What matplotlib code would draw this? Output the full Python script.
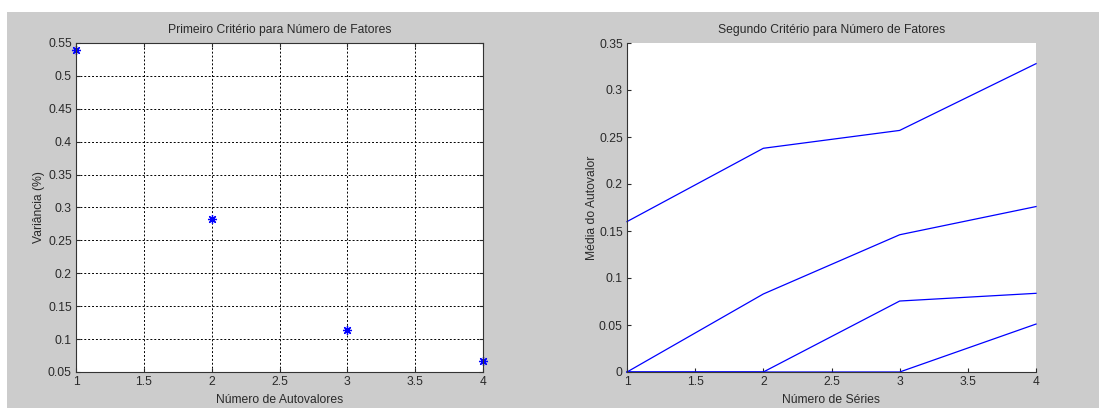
import matplotlib
matplotlib.use('Agg')
import matplotlib.pyplot as plt
from matplotlib.patches import Rectangle

# dados do primeiro criterio
n_autovalores = [1, 2, 3, 4]
variancia = [0.539, 0.282, 0.114, 0.066]

# dados do segundo criterio
n_series = [1, 2, 3, 4]
media_1 = [0.160, 0.238, 0.257, 0.328]
media_2 = [0.0, 0.083, 0.146, 0.176]
media_3 = [0.0, 0.0, 0.0755, 0.0837]
media_4 = [0.0, 0.0, 0.0, 0.051]

xticks = [1, 1.5, 2, 2.5, 3, 3.5, 4]
xticklabels = ['1', '1.5', '2', '2.5', '3', '3.5', '4']
yticks1 = [0.05, 0.1, 0.15, 0.2, 0.25, 0.3, 0.35, 0.4, 0.45, 0.5, 0.55]
yticklabels1 = ['0.05', '0.1', '0.15', '0.2', '0.25', '0.3', '0.35', '0.4', '0.45', '0.5', '0.55']
yticks2 = [0, 0.05, 0.1, 0.15, 0.2, 0.25, 0.3, 0.35]
yticklabels2 = ['0', '0.05', '0.1', '0.15', '0.2', '0.25', '0.3', '0.35']

plt.rcParams['font.family'] = ['Liberation Sans', 'DejaVu Sans']
plt.rcParams['xtick.direction'] = 'in'
plt.rcParams['ytick.direction'] = 'in'

fs = 8.7
txt = '#2a2a2a'

fig = plt.figure(figsize=(10.99, 4.08), dpi=100)
fig.patch.set_facecolor('white')
# fundo cinza estilo MATLAB
fig.patches.append(Rectangle((7/1099, 0), 1 - 7/1099, 1 - 12/408, transform=fig.transFigure,
                             facecolor='#cccccc', edgecolor='none', zorder=-1))

ax1 = fig.add_axes([76/1099, 36/408, 407/1099, 329/408])
ax1.plot(n_autovalores, variancia, linestyle='none', marker=(8, 2, 0), color='blue',
         markersize=6.5, markeredgewidth=0.9, clip_on=False)
ax1.set_xlim(1, 4)
ax1.set_ylim(0.05, 0.55)
ax1.set_xticks(xticks)
ax1.set_xticklabels(xticklabels)
ax1.set_yticks(yticks1)
ax1.set_yticklabels(yticklabels1)
ax1.grid(True, color='black', linestyle=(0, (2, 2)), linewidth=0.7)
ax1.set_title('Primeiro Critério para Número de Fatores', fontsize=fs, pad=7, color=txt)
ax1.set_xlabel('Número de Autovalores', fontsize=fs, labelpad=4, color=txt)
ax1.set_ylabel('Variância (%)', fontsize=fs, labelpad=2, color=txt)
ax1.tick_params(top=True, right=True, length=3, colors=txt, labelsize=fs, pad=3)
for s in ax1.spines.values():
    s.set_color('#333333')
    s.set_linewidth(0.8)

ax2 = fig.add_axes([627/1099, 36/408, 409/1099, 329/408])
for serie in [media_1, media_2, media_3, media_4]:
    ax2.plot(n_series, serie, color='blue', linewidth=0.9, clip_on=False)
ax2.set_xlim(1, 4)
ax2.set_ylim(0, 0.35)
ax2.set_xticks(xticks)
ax2.set_xticklabels(xticklabels)
ax2.set_yticks(yticks2)
ax2.set_yticklabels(yticklabels2)
ax2.set_title('Segundo Critério para Número de Fatores', fontsize=fs, pad=7, color=txt)
ax2.set_xlabel('Número de Séries', fontsize=fs, labelpad=4, color=txt)
ax2.set_ylabel('Média do Autovalor', fontsize=fs, labelpad=1, color=txt)
ax2.spines['top'].set_visible(False)
ax2.spines['right'].set_visible(False)
ax2.tick_params(length=3, colors=txt, labelsize=fs, pad=3)
for s in ['left', 'bottom']:
    ax2.spines[s].set_color('#333333')
    ax2.spines[s].set_linewidth(0.8)

fig.savefig('out.png', dpi=100, facecolor=fig.get_facecolor())
